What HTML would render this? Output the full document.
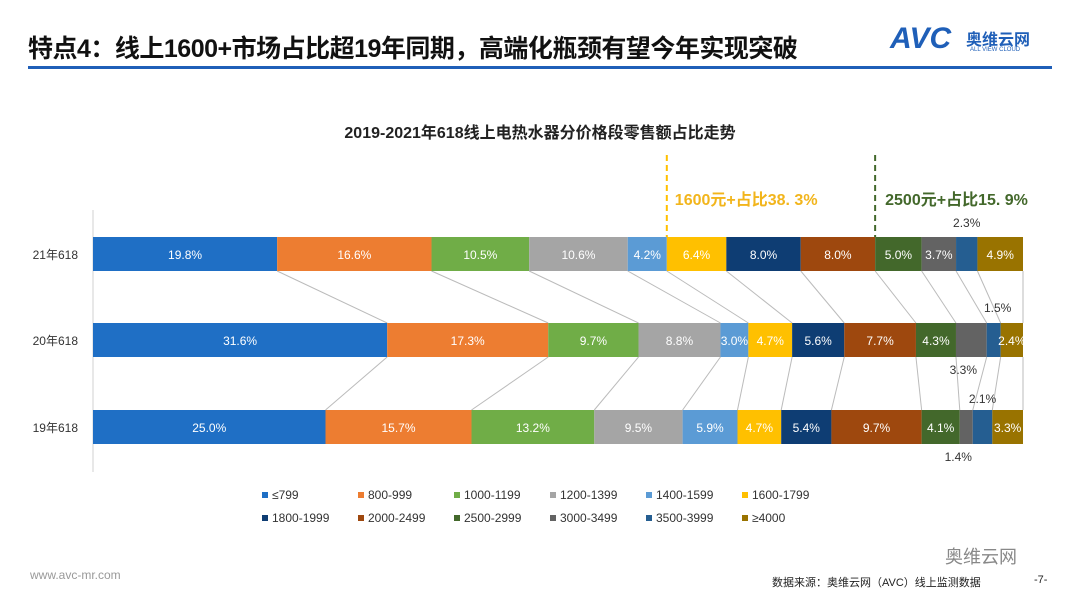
<!DOCTYPE html>
<html><head><meta charset="utf-8"><style>
body{margin:0;width:1080px;height:608px;background:#fff;font-family:"Liberation Sans","Noto Sans CJK SC",sans-serif;overflow:hidden;position:relative}
.t{position:absolute;white-space:nowrap}
</style></head><body>
<div class="t" style="left:28px;top:29px;font-size:25px;font-weight:bold;color:#111;letter-spacing:-0.5px">特点4：线上1600+市场占比超19年同期，高端化瓶颈有望今年实现突破</div>
<div class="t" style="left:890px;top:22px;font-size:30px;font-weight:bold;color:#1f5fb8;font-style:italic">AVC</div>
<div class="t" style="left:966px;top:26px;font-size:16px;font-weight:bold;color:#1f5fb8">奥维云网</div>
<div class="t" style="left:970px;top:47px;font-size:6px;color:#1f5fb8">ALL VIEW CLOUD</div>
<div style="position:absolute;left:28px;top:66px;width:1024px;height:3px;background:#1f5fb8"></div>
<div class="t" style="left:0;width:1080px;text-align:center;top:119px;font-size:16px;font-weight:bold;color:#222">2019-2021年618线上电热水器分价格段零售额占比走势</div>
<svg id="c" width="1080" height="608" style="position:absolute;left:0;top:0"></svg>
<div class="t" style="left:772px;top:574px;font-size:11px;color:#222">数据来源：奥维云网（AVC）线上监测数据</div>
<div class="t" style="left:1034px;top:574px;font-size:11px;color:#222">-7-</div>
<div class="t" style="left:30px;top:568px;font-size:12px;color:#999">www.avc-mr.com</div>
<div class="t" style="left:945px;top:543px;font-size:18px;color:#888">奥维云网</div>
<script>
const categories=["21年618","20年618","19年618"];
const segments=["≤799","800-999","1000-1199","1200-1399","1400-1599","1600-1799","1800-1999","2000-2499","2500-2999","3000-3499","3500-3999","≥4000"];
const v21=[19.8,16.6,10.5,10.6,4.2,6.4,8.0,8.0,5.0,3.7,2.3,4.9];
const v20=[31.6,17.3,9.7,8.8,3.0,4.7,5.6,7.7,4.3,3.3,1.5,2.4];
const v19=[25.0,15.7,13.2,9.5,5.9,4.7,5.4,9.7,4.1,1.4,2.1,3.3];
const series=[v21,v20,v19];
const colors=["#1f6fc5","#ed7d31","#70ad47","#a5a5a5","#5b9bd5","#ffc000","#0e3d73","#9e480e","#43682b","#636363","#255e91","#997300"];
const svg=document.getElementById('c');const NS='http://www.w3.org/2000/svg';
const X0=93,W=930,rowY=[237,323,410],H=34;
function mk(t,a,n){const e=document.createElementNS(NS,t);for(const k in a)e.setAttribute(k,a[k]);svg.appendChild(e);return e;}
function xs(vals){const tot=vals.reduce((a,b)=>a+b,0);let c=0;return vals.map(v=>{const s=X0+c/tot*W;c+=v;return [s,X0+c/tot*W];});}
mk('line',{x1:X0,y1:210,x2:X0,y2:472,stroke:'#d0d0d0'},'y-axis');
const pos=series.map(xs);
for(let r=0;r<2;r++)for(let i=0;i<segments.length;i++){
 const a=pos[r][i][1],b=pos[r+1][i][1];
 mk('line',{x1:a,y1:rowY[r]+H,x2:b,y2:rowY[r+1],stroke:'#bbb','stroke-width':1},'connector');}
const outside={"0-10":[0,-10],"1-10":[4,-11],"1-9":[-8,H+17],"2-10":[0,-7],"2-9":[-8,H+17]};
series.forEach((vals,r)=>{
 mk('text',{x:78,y:rowY[r]+22,'text-anchor':'end','font-size':12,fill:'#333'},'category-label').textContent=categories[r];
 vals.forEach((v,i)=>{
  const [s,e]=pos[r][i];
  mk('rect',{x:s,y:rowY[r],width:e-s,height:H,fill:colors[i]},'bar-'+segments[i]);
  const key=r+'-'+i;const lbl=v.toFixed(1)+'%';
  if(outside[key]){const o=outside[key];const t=mk('text',{x:(s+e)/2+o[0],y:rowY[r]+o[1],'text-anchor':'middle','font-size':12,fill:'#333'},'value-label');t.textContent=lbl;}
  else {const t=mk('text',{x:(s+e)/2,y:rowY[r]+22,'text-anchor':'middle','font-size':12,fill:'#fff'},'value-label');t.textContent=lbl;}
 });
});
const d1=pos[0][5][0],d2=pos[0][8][0];
mk('line',{x1:d1,y1:155,x2:d1,y2:237,stroke:'#ffc000','stroke-width':2,'stroke-dasharray':'6,4'},'marker-1600');
mk('line',{x1:d2,y1:155,x2:d2,y2:237,stroke:'#43682b','stroke-width':2,'stroke-dasharray':'6,4'},'marker-2500');
mk('text',{x:d1+8,y:205,'font-size':16,'font-weight':'bold',fill:'#f2b51c'},'annotation-1600').textContent='1600元+占比38. 3%';
mk('text',{x:d2+10,y:205,'font-size':16,'font-weight':'bold',fill:'#43682b'},'annotation-2500').textContent='2500元+占比15. 9%';
segments.forEach((s,i)=>{const col=i%6,row=Math.floor(i/6);const x=262+col*96,y=496+row*23;
 mk('rect',{x:x,y:y-4,width:6,height:6,fill:colors[i]},'legend-swatch');
 mk('text',{x:x+10,y:y+3,'font-size':12,fill:'#333'},'legend-entry').textContent=s;});
</script>
</body></html>
